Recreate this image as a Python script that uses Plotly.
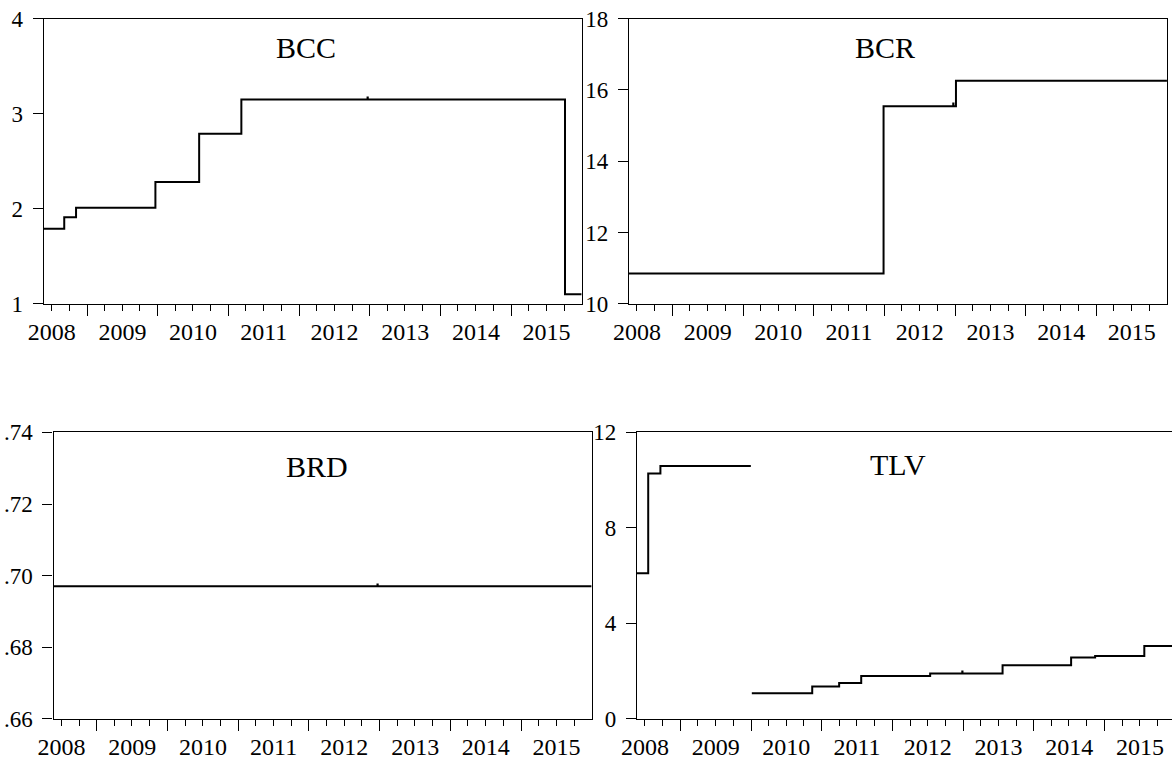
import plotly.graph_objects as go

# ---------------- data ----------------
range_start = "2008-05-22"
range_end = "2015-12-31"
range_end_tlv = "2015-12-15"   # right panel of bottom row is clipped by the window

bcc_dates = ["2008-05-22", "2008-09-05", "2008-11-05", "2009-12-20", "2010-08-03",
             "2011-03-09", "2012-12-20", "2012-12-21", "2015-10-06", "2015-12-31"]
bcc_vals = [1.79, 1.91, 2.01, 2.28, 2.79, 3.15, 3.17, 3.15, 1.10, 1.10]

bcr_dates = ["2008-05-22", "2011-12-28", "2012-12-22", "2012-12-23", "2013-01-05", "2015-12-31"]
bcr_vals = [10.85, 15.54, 15.62, 15.54, 16.26, 16.26]

brd_dates = ["2008-05-22", "2012-12-20", "2012-12-21", "2015-12-31"]
brd_vals = [0.697, 0.6975, 0.697, 0.697]

tlv_dates = ["2008-05-22", "2008-07-19", "2008-09-20", "2009-12-31", "2010-01-02",
             "2010-01-05", "2010-11-13", "2011-04-01", "2011-07-24", "2012-07-14",
             "2012-12-27", "2012-12-28", "2013-07-23", "2014-07-12", "2014-11-13",
             "2015-07-25", "2015-12-31"]
tlv_vals = [6.10, 10.28, 10.59, 10.59, None,
            1.07, 1.35, 1.50, 1.79, 1.90,
            1.98, 1.90, 2.24, 2.57, 2.63,
            3.05, 3.05]

bcc_yticks = [1, 2, 3, 4]
bcc_yticktext = ["1", "2", "3", "4"]
bcr_yticks = [10, 12, 14, 16, 18]
bcr_yticktext = ["10", "12", "14", "16", "18"]
brd_yticks = [0.66, 0.68, 0.70, 0.72, 0.74]
brd_yticktext = [".66", ".68", ".70", ".72", ".74"]
tlv_yticks = [0, 4, 8, 12]
tlv_yticktext = ["0", "4", "8", "12"]

titles = ["BCC", "BCR", "BRD", "TLV"]

# ---------------- figure ----------------
FONT = "Liberation Serif"
panels = [
    dict(x=bcc_dates, y=bcc_vals, yr=[1, 4], tv=bcc_yticks, tt=bcc_yticktext,
         xd=[0.0373, 0.4963], yd=[0.6014, 0.9755], xend=range_end, mirror=True),
    dict(x=bcr_dates, y=bcr_vals, yr=[10, 18], tv=bcr_yticks, tt=bcr_yticktext,
         xd=[0.5367, 0.9957], yd=[0.6014, 0.9755], xend=range_end, mirror=True),
    dict(x=brd_dates, y=brd_vals, yr=[0.66, 0.74], tv=brd_yticks, tt=brd_yticktext,
         xd=[0.0457, 0.5048], yd=[0.0568, 0.4325], xend=range_end, mirror=True),
    dict(x=tlv_dates, y=tlv_vals, yr=[0, 12], tv=tlv_yticks, tt=tlv_yticktext,
         xd=[0.5435, 1.0], yd=[0.0568, 0.4325], xend=range_end_tlv, mirror=False),
]
title_pos = [(0.2607, 0.9377), (0.7548, 0.9377), (0.2705, 0.3875), (0.7658, 0.3900)]

fig = go.Figure()
layout = dict(
    width=1172, height=762,
    margin=dict(l=0, r=0, t=0, b=0, autoexpand=False),
    paper_bgcolor="white", plot_bgcolor="white",
    showlegend=False,
    font=dict(family=FONT, size=22, color="black"),
)
annotations = []
for i, p in enumerate(panels, start=1):
    xa = "x" if i == 1 else f"x{i}"
    ya = "y" if i == 1 else f"y{i}"
    fig.add_trace(go.Scatter(
        x=p["x"], y=p["y"], mode="lines", xaxis=xa, yaxis=ya,
        line=dict(color="black", width=2, shape="hv"),
        connectgaps=False, hoverinfo="skip"))
    layout[f"xaxis{i}" if i > 1 else "xaxis"] = dict(
        type="date", domain=p["xd"], anchor=ya, automargin=False,
        range=[range_start, p["xend"]],
        showgrid=False, zeroline=False,
        showline=True, linecolor="black", linewidth=1.4, mirror=True,
        ticks="outside", ticklen=11, tickwidth=1.3, tickcolor="black",
        tick0="2000-01-01", dtick="M12", tickformat="%Y",
        ticklabelmode="period", ticklabelstandoff=-5,
        minor=dict(dtick="M3", tick0="2000-01-01", ticks="outside", ticklen=6,
                   tickwidth=1.3, tickcolor="black", showgrid=False),
        tickfont=dict(family=FONT, size=24, color="black"),
    )
    layout[f"yaxis{i}" if i > 1 else "yaxis"] = dict(
        domain=p["yd"], anchor=xa, range=p["yr"], automargin=False,
        tickmode="array", tickvals=p["tv"], ticktext=p["tt"],
        showgrid=False, zeroline=False,
        showline=True, linecolor="black", linewidth=1.4, mirror=p["mirror"],
        ticks="outside", ticklen=10, tickwidth=1.3, tickcolor="black",
        ticklabelstandoff=5,
        tickfont=dict(family=FONT, size=23, color="black"),
    )
    tx, ty = title_pos[i - 1]
    annotations.append(dict(text=titles[i - 1], x=tx, y=ty, xref="paper", yref="paper",
                            xanchor="center", yanchor="middle", showarrow=False,
                            font=dict(family=FONT, size=30, color="black")))
layout["annotations"] = annotations
fig.update_layout(**layout)
fig.write_html("out.html")
